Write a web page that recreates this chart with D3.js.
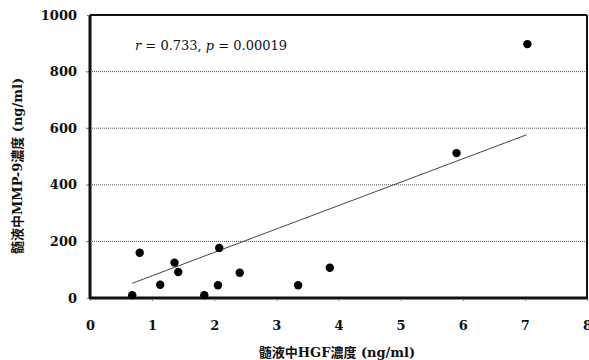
<!DOCTYPE html>
<html>
<head>
<meta charset="utf-8">
<script src="https://d3js.org/d3.v7.min.js"></script>
<style>
  body { margin: 0; background: #fff; }
  text { fill: #111; }
</style>
</head>
<body>
<div id="chart"></div>
<script>
// values
var hgf  = [0.68, 0.80, 1.13, 1.36, 1.42, 1.84, 2.06, 2.08, 2.41, 3.35, 3.86, 5.90, 7.04];
var mmp9 = [10, 160, 47, 125, 92, 10, 45, 177, 89, 45, 107, 512, 897];
// regression line end points
var fitX = [0.68, 7.03];
var fitY = [52, 577];
var xTicks = [0, 1, 2, 3, 4, 5, 6, 7, 8];
var yTicks = [0, 200, 400, 600, 800, 1000];

var W = 589, H = 360;
var margin = {top: 15, right: 2, bottom: 62, left: 90};
var width = W - margin.left - margin.right,
    height = H - margin.top - margin.bottom;

var svg = d3.select("#chart").append("svg")
    .attr("width", W).attr("height", H);
var g = svg.append("g")
    .attr("transform", "translate(" + margin.left + "," + margin.top + ")");

var x = d3.scaleLinear().domain([0, 8]).range([0, width]);
var y = d3.scaleLinear().domain([0, 1000]).range([height, 0]);

var lab = "'DejaVu Serif', 'Noto Sans CJK JP', serif";

// dotted grid lines
g.selectAll(".grid")
  .data(yTicks.filter(function(d) { return d > 0 && d < 1000; }))
  .enter().append("line")
    .attr("x1", -4).attr("x2", width)
    .attr("y1", function(d) { return y(d); })
    .attr("y2", function(d) { return y(d); })
    .attr("stroke", "#555")
    .attr("stroke-width", 1)
    .attr("stroke-dasharray", "1,1");

// frame: top and right thinner
g.append("line").attr("x1", 0).attr("x2", width).attr("y1", 0).attr("y2", 0)
  .attr("stroke", "#111").attr("stroke-width", 2);
g.append("line").attr("x1", width).attr("x2", width).attr("y1", 0).attr("y2", height)
  .attr("stroke", "#111").attr("stroke-width", 2);

// axes
var yAxis = g.append("g")
  .call(d3.axisLeft(y).tickValues(yTicks).tickFormat(d3.format("d"))
    .tickSize(4).tickPadding(9));
var xAxis = g.append("g")
  .attr("transform", "translate(0," + height + ")")
  .call(d3.axisBottom(x).tickValues(xTicks).tickFormat(d3.format("d"))
    .tickSize(4).tickPadding(19));

[xAxis, yAxis].forEach(function(a) {
  a.select(".domain").remove();
  a.selectAll(".tick line").attr("stroke", "#777").attr("stroke-dasharray", "1,1");
  a.selectAll("text")
    .style("font-family", lab)
    .style("font-weight", "bold")
    .style("font-size", "13px")
    .attr("fill", "#111");
});

// thick left and bottom axis lines
g.append("line").attr("x1", 0).attr("x2", 0).attr("y1", 0).attr("y2", height + 1)
  .attr("stroke", "#111").attr("stroke-width", 3);
g.append("line").attr("x1", -1).attr("x2", width + 1).attr("y1", height).attr("y2", height)
  .attr("stroke", "#111").attr("stroke-width", 3);

// regression line
g.append("line")
  .attr("x1", x(fitX[0])).attr("y1", y(fitY[0]))
  .attr("x2", x(fitX[1])).attr("y2", y(fitY[1]))
  .attr("stroke", "#444").attr("stroke-width", 1);

// points
g.selectAll(".dot")
  .data(hgf)
  .enter().append("circle")
    .attr("cx", function(d) { return x(d); })
    .attr("cy", function(d, i) { return y(mmp9[i]); })
    .attr("r", 4.2)
    .attr("fill", "#000");

// r / p annotation
var ann = svg.append("text")
  .attr("x", 135).attr("y", 50)
  .style("font-family", "'DejaVu Serif', serif")
  .style("font-size", "13px");
ann.append("tspan").style("font-style", "italic").text("r");
ann.append("tspan").text(" = 0.733, ");
ann.append("tspan").style("font-style", "italic").text("p");
ann.append("tspan").text(" = 0.00019");

// axis titles
svg.append("text")
  .attr("x", 337).attr("y", 357)
  .attr("text-anchor", "middle")
  .style("font-family", lab)
  .style("font-weight", "bold")
  .style("font-size", "13px")
  .text("髄液中HGF濃度 (ng/ml)");

svg.append("text")
  .attr("transform", "translate(22,166) rotate(-90)")
  .attr("text-anchor", "middle")
  .style("font-family", lab)
  .style("font-weight", "bold")
  .style("font-size", "13px")
  .text("髄液中MMP-9濃度 (ng/ml)");
</script>
</body>
</html>
